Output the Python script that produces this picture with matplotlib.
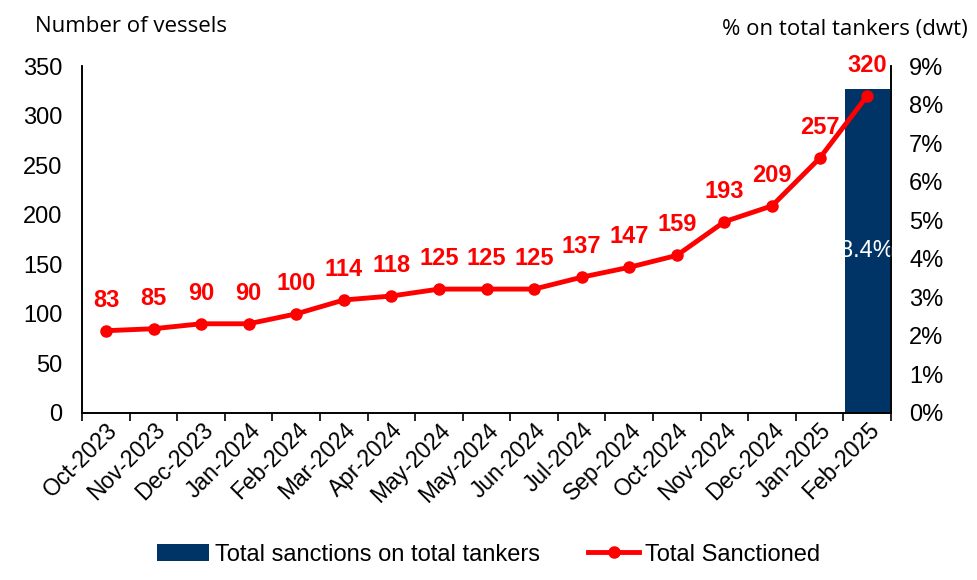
import matplotlib.pyplot as plt
import numpy as np

plt.rcParams['font.family'] = ['Liberation Sans', 'DejaVu Sans']

months = ['Oct-2023', 'Nov-2023', 'Dec-2023', 'Jan-2024', 'Feb-2024', 'Mar-2024',
          'Apr-2024', 'May-2024', 'May-2024', 'Jun-2024', 'Jul-2024', 'Sep-2024',
          'Oct-2024', 'Nov-2024', 'Dec-2024', 'Jan-2025', 'Feb-2025']
sanctioned = [83, 85, 90, 90, 100, 114, 118, 125, 125, 125, 137, 147, 159, 193, 209, 257, 320]
# share of total tankers (dwt), only reported for the last month
share_pct = [0, 0, 0, 0, 0, 0, 0, 0, 0, 0, 0, 0, 0, 0, 0, 0, 8.4]

RED = '#ff0000'
NAVY = '#003366'
FS = 17

fig = plt.figure(figsize=(9.78, 5.8), dpi=100)
ax = fig.add_axes([0.084, 0.288, 0.827, 0.598])
ax2 = ax.twinx()

x = np.arange(len(months))

bars = ax2.bar(x, share_pct, width=0.95, color=NAVY, zorder=1)
ax2.text(x[-1], share_pct[-1] / 2, '%.1f%%' % share_pct[-1], color='white',
         ha='center', va='center', fontsize=FS)
ax2.set_ylim(0, 9)
ax2.set_yticks(np.arange(0, 10, 1))
ax2.set_yticklabels(['%d%%' % v for v in range(10)], fontsize=FS)
ax2.tick_params(axis='y', length=0, pad=13)

# line must be drawn above the bar axes
ax.set_zorder(ax2.get_zorder() + 1)
ax.patch.set_visible(False)
line, = ax.plot(x, sanctioned, '-o', color=RED, linewidth=3.5, markersize=8, zorder=3)
for xi, v in zip(x, sanctioned):
    ax.annotate(str(v), (xi, v), xytext=(0, 22), textcoords='offset points',
                ha='center', va='center', color=RED, fontsize=FS, fontweight='bold')

ax.set_ylim(0, 350)
ax.set_yticks(np.arange(0, 351, 50))
ax.tick_params(axis='y', labelsize=FS, length=0, pad=14)
ax.set_xlim(-0.5, len(months) - 0.5)
ax.set_xticks(x)
ax.set_xticklabels(months, rotation=45, ha='right', rotation_mode='anchor', fontsize=16.5)
ax.tick_params(axis='x', length=0, pad=4)
ax.set_xticks(np.arange(-0.5, len(months), 1), minor=True)
ax.tick_params(axis='x', which='minor', length=6, width=1.2, direction='out')

for a in (ax, ax2):
    a.spines['top'].set_visible(False)
    a.spines['left'].set_linewidth(1.2)
    a.spines['right'].set_linewidth(1.2)
    a.spines['bottom'].set_linewidth(1.2)

fig.text(0.036, 0.955, 'Number of vessels', fontsize=16, ha='left', va='center',
         family=['Open Sans', 'DejaVu Sans'])
fig.text(0.99, 0.95, '% on total tankers (dwt)', fontsize=16, ha='right', va='center',
         family=['Open Sans', 'DejaVu Sans'])

fig.legend([bars, line], ['Total sanctions on total tankers', 'Total Sanctioned'],
           loc='lower center', bbox_to_anchor=(0.5, -0.012), ncol=2, frameon=False,
           fontsize=FS, handlelength=2.2, columnspacing=2.0, handletextpad=0.25)

fig.savefig('out.png', dpi=100)
